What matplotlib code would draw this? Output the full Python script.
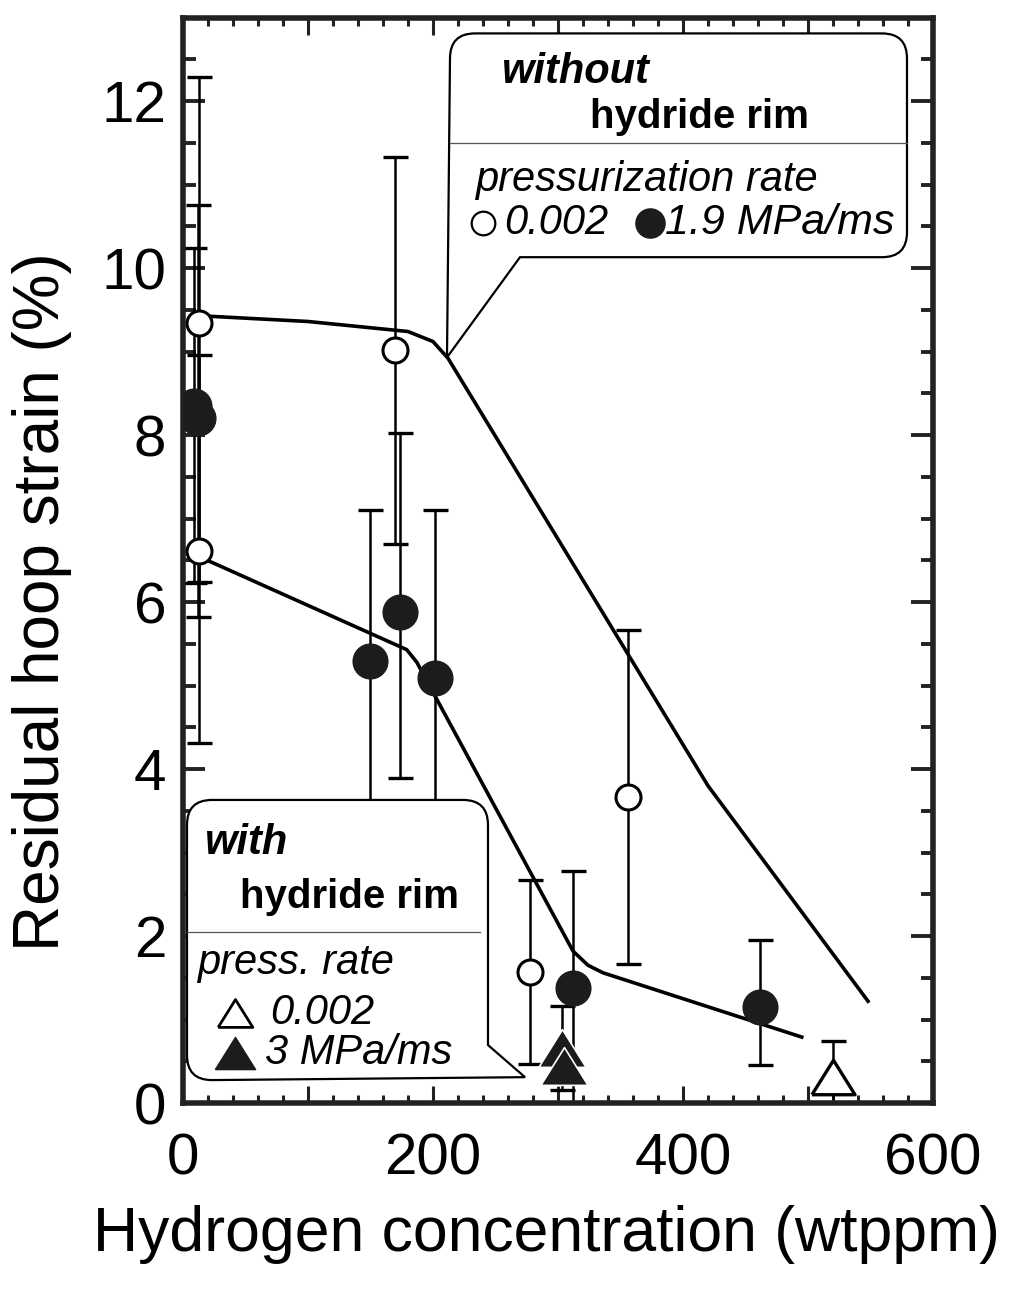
import numpy as np
import matplotlib
matplotlib.use("Agg")
import matplotlib.pyplot as plt
from matplotlib.path import Path
from matplotlib.patches import PathPatch
from matplotlib.ticker import MultipleLocator

plt.rcParams["font.family"] = ["Liberation Sans", "DejaVu Sans"]

# open circles: 0.002 MPa/ms
open_x = [13, 170, 278, 356, 13]
open_y = [9.34, 9.02, 1.57, 3.66, 6.61]
open_lo = [3.1, 2.32, 1.1, 2.0, 2.3]
open_hi = [2.95, 2.31, 1.1, 2.0, 2.35]

# filled circles: 1.9 MPa/ms
fill_x = [9, 12, 150, 174, 202, 312, 462]
fill_y = [8.35, 8.2, 5.3, 5.88, 5.09, 1.38, 1.15]
fill_lo = [2.12, 2.38, 1.8, 1.99, 2.0, 1.4, 0.69]
fill_hi = [1.89, 2.55, 1.8, 2.14, 2.01, 1.4, 0.8]

# triangles (with hydride rim)
tri_open_x = [520]
tri_open_y = [0.31]
tri_open_err = [0.43]
tri_fill_x = [303, 305]
tri_fill_y = [0.66, 0.44]
tri_fill_err = [0.5, 0.0]

# trend curves
upper_x = [12, 100, 180, 200, 212, 420, 548]
upper_y = [9.43, 9.36, 9.24, 9.12, 8.92, 3.8, 1.22]
lower_x = [12, 179, 187, 312, 324, 336, 495]
lower_y = [6.55, 5.43, 5.28, 1.82, 1.65, 1.56, 0.79]

xticks = [0, 100, 200, 300, 400, 500, 600]
xticklabels = ["0", "", "200", "", "400", "", "600"]
yticks = [0, 2, 4, 6, 8, 10, 12]


def callout(x0, x1, y0, y1, rx, ry, corner, pts):
    corners = {
        "tr": [(x1 - rx, y1), (x1, y1), (x1, y1 - ry)],
        "br": [(x1, y0 + ry), (x1, y0), (x1 - rx, y0)],
        "bl": [(x0 + rx, y0), (x0, y0), (x0, y0 + ry)],
        "tl": [(x0, y1 - ry), (x0, y1), (x0 + rx, y1)],
    }
    verts = [(x0 + rx, y1)]
    codes = [Path.MOVETO]
    for name in ["tr", "br", "bl", "tl"]:
        a, c, b = corners[name]
        if name == corner:
            for p in pts:
                verts.append(p)
                codes.append(Path.LINETO)
        else:
            verts += [a, c, b]
            codes += [Path.LINETO, Path.CURVE3, Path.CURVE3]
    verts.append((x0 + rx, y1))
    codes.append(Path.CLOSEPOLY)
    return Path(verts, codes)


fig = plt.figure(figsize=(10.2, 13), dpi=100)
ax = fig.add_axes([0.1794, 0.1515, 0.7353, 0.835])

ax.plot(upper_x, upper_y, color="black", lw=2.6, zorder=2.5)
ax.plot(lower_x, lower_y, color="black", lw=2.6, zorder=2.5)

eb = dict(fmt="none", ecolor="black", elinewidth=1.8, capsize=9, capthick=2.4, zorder=2)
ax.errorbar(open_x, open_y, yerr=[open_lo, open_hi], **eb)
ax.errorbar(fill_x, fill_y, yerr=[fill_lo, fill_hi], **eb)
ax.errorbar(tri_open_x, tri_open_y, yerr=tri_open_err, **eb)
ax.errorbar(tri_fill_x, tri_fill_y, yerr=tri_fill_err, **eb)

ax.plot(open_x, open_y, "o", ms=18, mfc="white", mec="black", mew=2.2, ls="none", zorder=3)
ax.plot(fill_x, fill_y, "o", ms=25, mfc="#1c1c1c", mec="#1c1c1c", mew=1, ls="none", zorder=3)
tri = [(-1, -0.8), (1, -0.8), (0, 0.8), (-1, -0.8)]
ax.plot(tri_open_x, tri_open_y, marker=tri, ms=31, mfc="white", mec="black", mew=2.4,
        ls="none", zorder=3)
ax.plot(tri_fill_x, tri_fill_y, marker=tri, ms=34, mfc="#1c1c1c", mec="white", mew=1.2,
        ls="none", zorder=3)

# callout boxes
rx, ry = 20, 0.3
p_up = callout(213.6, 579.2, 10.13, 12.81, rx, ry, "bl", [(269.6, 10.13), (211.2, 8.93)])
ax.add_patch(PathPatch(p_up, facecolor="white", edgecolor="black", lw=1.6, zorder=4))
ax.plot([213.6, 579.2], [11.5, 11.5], color="#555555", lw=0.9, zorder=4.5)

p_lo = callout(3.2, 244, 0.275, 3.63, rx, ry, "br", [(244, 0.695), (273.6, 0.31)])
ax.add_patch(PathPatch(p_lo, facecolor="white", edgecolor="black", lw=1.6, zorder=4))
ax.plot([3.2, 238], [2.05, 2.05], color="#555555", lw=0.9, zorder=4.5)

fs = 30
ax.text(255.2, 12.35, "without", fontsize=fs, fontweight="bold", style="italic", va="center", zorder=5)
ax.text(325.6, 11.81, "hydride rim", fontsize=fs - 1, fontweight="bold", va="center", zorder=5)
ax.text(233.6, 11.05, "pressurization rate", fontsize=fs, style="italic", va="center", zorder=5)
ax.plot([240], [10.54], "o", ms=17, mfc="white", mec="black", mew=1.6, zorder=5)
ax.text(257, 10.54, "0.002", fontsize=fs, style="italic", va="center", zorder=5)
ax.plot([374], [10.54], "o", ms=21, mfc="#1c1c1c", mec="#1c1c1c", zorder=5)
ax.text(386, 10.54, "1.9 MPa/ms", fontsize=fs + 1, style="italic", va="center", zorder=5)

ax.text(17.6, 3.11, "with", fontsize=fs, fontweight="bold", style="italic", va="center", zorder=5)
ax.text(45.6, 2.47, "hydride rim", fontsize=fs - 1, fontweight="bold", va="center", zorder=5)
ax.text(11.2, 1.68, "press. rate", fontsize=fs, style="italic", va="center", zorder=5)
ax.plot([41.6], [1.08], marker=tri, ms=25, mfc="white", mec="black", mew=2, zorder=5)
ax.text(69.6, 1.08, "0.002", fontsize=fs, style="italic", va="center", zorder=5)
ax.plot([41.6], [0.6], marker=tri, ms=29, mfc="#1c1c1c", mec="#1c1c1c", zorder=5)
ax.text(65.6, 0.6, "3 MPa/ms", fontsize=fs, style="italic", va="center", zorder=5)

ax.set_xlim(0, 600)
ax.set_ylim(0, 13)
ax.set_xticks(xticks)
ax.set_xticklabels(xticklabels)
ax.set_yticks(yticks)
ax.xaxis.set_minor_locator(MultipleLocator(20))
ax.yaxis.set_minor_locator(MultipleLocator(0.5))
ax.tick_params(which="both", direction="in", top=True, right=True, color="#222222")
ax.tick_params(axis="x", which="major", length=12, width=2.2, labelsize=42, pad=21)
ax.tick_params(axis="x", which="minor", length=6, width=2.2)
ax.tick_params(axis="y", which="major", length=16, width=2.8, labelsize=42, pad=12)
ax.tick_params(axis="y", which="minor", length=9, width=2.8)
for s in ax.spines.values():
    s.set_linewidth(4)
    s.set_color("#222222")

ax.set_xlabel("Hydrogen concentration (wtppm)", fontsize=45)
ax.set_ylabel("Residual hoop strain (%)", fontsize=46)
ax.xaxis.set_label_coords(0.485, -0.094)
ax.yaxis.set_label_coords(-0.148, 0.4615)

fig.savefig("out.png", dpi=100)
